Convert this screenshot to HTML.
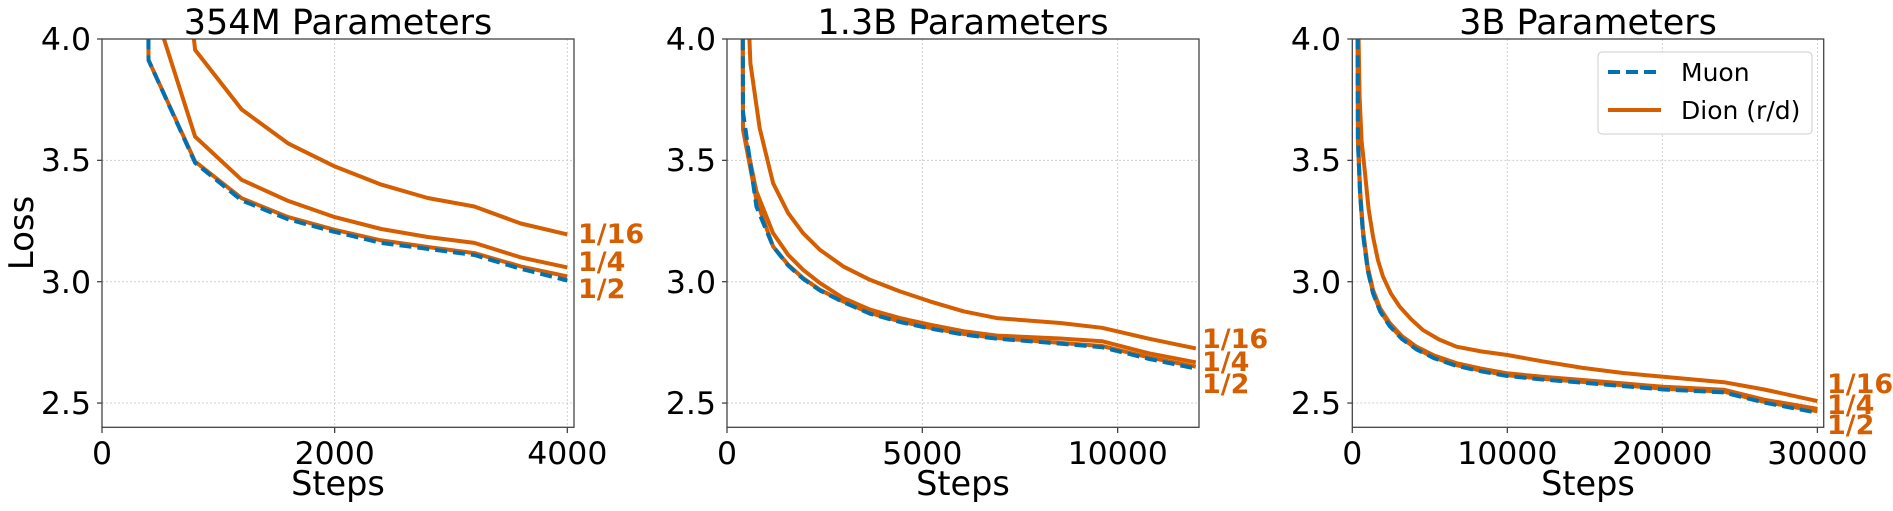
<!DOCTYPE html>
<html><head><meta charset="utf-8"><style>
html,body{margin:0;padding:0;background:#fff;}
svg{display:block;font-family:"DejaVu Sans","Liberation Sans",sans-serif;}
</style></head><body>
<svg id="s" width="1893" height="511" viewBox="0 0 1893 511" xmlns="http://www.w3.org/2000/svg">
<defs>
<clipPath id="c1"><rect x="102" y="39" width="472" height="388.3"/></clipPath>
<clipPath id="c2"><rect x="727" y="39" width="472" height="388.3"/></clipPath>
<clipPath id="c3"><rect x="1352.3" y="39" width="471.4" height="388.3"/></clipPath>
</defs>
<g id="grid" stroke="#d0d0d0" stroke-width="1" stroke-dasharray="2,2"></g>
<g id="lines" fill="none" stroke-linejoin="round"></g>
<g id="frames" fill="none" stroke="#444" stroke-width="1.3"></g>
<g font-size="31.5" fill="#000">
<text x="338" y="34" text-anchor="middle" font-size="35">354M Parameters</text>
<text x="963" y="34" text-anchor="middle" font-size="35">1.3B Parameters</text>
<text x="1588" y="34" text-anchor="middle" font-size="35">3B Parameters</text>
<text x="338" y="495" text-anchor="middle" font-size="33.5">Steps</text>
<text x="963" y="495" text-anchor="middle" font-size="33.5">Steps</text>
<text x="1588" y="495" text-anchor="middle" font-size="33.5">Steps</text>
<text transform="translate(33,233) rotate(-90)" text-anchor="middle" font-size="34">Loss</text>
<g text-anchor="end">
<text x="91" y="50">4.0</text><text x="91" y="171">3.5</text><text x="91" y="293">3.0</text><text x="91" y="414">2.5</text>
<text x="716" y="50">4.0</text><text x="716" y="171">3.5</text><text x="716" y="293">3.0</text><text x="716" y="414">2.5</text>
<text x="1341" y="50">4.0</text><text x="1341" y="171">3.5</text><text x="1341" y="293">3.0</text><text x="1341" y="414">2.5</text>
</g>
<g text-anchor="middle">
<text x="102" y="464">0</text><text x="334.7" y="464">2000</text><text x="567.3" y="464">4000</text>
<text x="727" y="464">0</text><text x="922.3" y="464">5000</text><text x="1117.7" y="464">10000</text>
<text x="1352.3" y="464">0</text><text x="1507.3" y="464">10000</text><text x="1662.3" y="464">20000</text><text x="1817.4" y="464">30000</text>
</g>
</g>
<g font-size="27" font-weight="bold" fill="#d55e00">
<text x="578" y="243">1/16</text><text x="578" y="271">1/4</text><text x="578" y="298">1/2</text>
<text x="1202" y="348">1/16</text><text x="1202" y="371">1/4</text><text x="1202" y="393">1/2</text>
<text x="1827" y="393">1/16</text><text x="1827" y="414">1/4</text><text x="1827" y="434">1/2</text>
</g>
<g>
<rect x="1598" y="52" width="214" height="82" rx="4" fill="#fff" fill-opacity="0.9" stroke="#ccc" stroke-width="1"/>
<line x1="1608" y1="72" x2="1661" y2="72" stroke="#0072b2" stroke-width="4" stroke-dasharray="12,6"/>
<line x1="1608" y1="110" x2="1661" y2="110" stroke="#d55e00" stroke-width="4"/>
<text x="1681" y="81" font-size="25">Muon</text>
<text x="1681" y="119" font-size="25">Dion (r/d)</text>
</g>
</svg>
<script>
const NS="http://www.w3.org/2000/svg";
const Y=v=>39+(4-v)*242.7;
const P=[
 {x0:102,x1:574,k:0.11633,clip:"c1",xt:[0,2000,4000]},
 {x0:727,x1:1199,k:0.039066,clip:"c2",xt:[0,5000,10000]},
 {x0:1352.3,x1:1823.7,k:0.015503,clip:"c3",xt:[0,10000,20000,30000]}
];
const data=[
 {
  d16:[[700,4.4],[800,3.955],[1200,3.71],[1600,3.57],[2000,3.475],[2400,3.40],[2800,3.345],[3200,3.31],[3600,3.24],[4000,3.195]],
  d4:[[400,4.2],[800,3.598],[1200,3.42],[1600,3.333],[2000,3.266],[2400,3.217],[2800,3.184],[3200,3.16],[3600,3.10],[4000,3.059]],
  d2:[[395,4.6],[400,3.913],[800,3.495],[1200,3.344],[1600,3.266],[2000,3.214],[2400,3.17],[2800,3.143],[3200,3.118],[3600,3.063],[4000,3.022]],
  mu:[[395,4.6],[400,3.913],[800,3.49],[1200,3.335],[1600,3.257],[2000,3.205],[2400,3.16],[2800,3.135],[3200,3.11],[3600,3.053],[4000,3.005]]
 },
 {
  d16:[[500,4.3],[600,3.9],[838,3.632],[1180,3.406],[1564,3.283],[1949,3.20],[2376,3.132],[2974,3.063],[3658,3.008],[4427,2.96],[5197,2.919],[6051,2.878],[6906,2.85],[8530,2.83],[9600,2.81],[10800,2.765],[12000,2.725]],
  d4:[[400,4.3],[410,3.64],[752,3.372],[1180,3.20],[1564,3.111],[1949,3.049],[2376,2.995],[2974,2.933],[3658,2.885],[4427,2.85],[5197,2.823],[6051,2.796],[6906,2.778],[8530,2.766],[9600,2.755],[10800,2.705],[12000,2.668]],
  d2:[[400,4.3],[410,3.626],[752,3.337],[1180,3.145],[1564,3.07],[1949,3.015],[2376,2.967],[2974,2.919],[3658,2.871],[4427,2.837],[5197,2.81],[6051,2.785],[6906,2.768],[8530,2.748],[9600,2.735],[10800,2.688],[12000,2.65]],
  mu:[[400,4.3],[410,3.7],[752,3.31],[1180,3.145],[1564,3.067],[1949,3.012],[2376,2.964],[2974,2.916],[3658,2.868],[4427,2.834],[5197,2.807],[6051,2.782],[6906,2.765],[8530,2.745],[9600,2.73],[10800,2.682],[12000,2.642]]
 },
 {
  d16:[[380,4.6],[409,4.0],[474,3.762],[600,3.58],[797,3.46],[1050,3.30],[1336,3.186],[1650,3.09],[1983,3.021],[2500,2.95],[3060,2.897],[3800,2.845],[4569,2.80],[5600,2.762],[6724,2.732],[8300,2.713],[10000,2.698],[12255,2.672],[14857,2.645],[17459,2.624],[20061,2.608],[23963,2.586],[26566,2.556],[30000,2.508]],
  d4:[[330,4.6],[366,3.597],[500,3.38],[690,3.213],[1000,3.06],[1336,2.966],[1800,2.89],[2414,2.83],[3200,2.776],[4138,2.732],[5300,2.695],[6724,2.664],[8300,2.642],[9956,2.623],[12255,2.608],[14857,2.595],[17459,2.581],[20061,2.567],[23963,2.555],[26566,2.514],[30000,2.476]],
  d2:[[320,4.6],[360,3.58],[500,3.36],[690,3.198],[1000,3.048],[1336,2.955],[1800,2.88],[2414,2.82],[3200,2.767],[4138,2.724],[5300,2.687],[6724,2.656],[8300,2.634],[9956,2.615],[12255,2.600],[14857,2.587],[17459,2.573],[20061,2.559],[23963,2.547],[26566,2.505],[30000,2.466]],
  mu:[[320,4.6],[360,3.58],[500,3.36],[690,3.195],[1000,3.045],[1336,2.952],[1800,2.877],[2414,2.817],[3200,2.764],[4138,2.721],[5300,2.684],[6724,2.653],[8300,2.631],[9956,2.612],[12255,2.597],[14857,2.584],[17459,2.570],[20061,2.556],[23963,2.544],[26566,2.502],[30000,2.46]]
 }
];
const grid=document.getElementById("grid"),lines=document.getElementById("lines"),fr=document.getElementById("frames");
function el(t,a,p){const e=document.createElementNS(NS,t);for(const k in a)e.setAttribute(k,a[k]);p.appendChild(e);return e;}
P.forEach((p,i)=>{
 [4.0,3.5,3.0,2.5].forEach(v=>{el("line",{x1:p.x0,x2:p.x1,y1:Y(v),y2:Y(v)},grid);el("line",{x1:p.x0-5,x2:p.x0,y1:Y(v),y2:Y(v)},fr);});
 p.xt.forEach(s=>{const x=p.x0+s*p.k;el("line",{x1:x,x2:x,y1:39,y2:427.3},grid);el("line",{x1:x,x2:x,y1:427.3,y2:433},fr);});
 el("rect",{x:p.x0,y:39,width:p.x1-p.x0,height:388.3},fr);
 const g=el("g",{"clip-path":"url(#"+p.clip+")"},lines);
 const D=data[i];
 const pts=a=>a.map(q=>(p.x0+q[0]*p.k).toFixed(1)+","+Y(q[1]).toFixed(1)).join(" ");
 ["d16","d4","d2"].forEach(k=>el("polyline",{points:pts(D[k]),stroke:"#d55e00","stroke-width":4},g));
 el("polyline",{points:pts(D.mu),stroke:"#0072b2","stroke-width":4,"stroke-dasharray":"12,6"},g);
});
</script>
</body></html>
